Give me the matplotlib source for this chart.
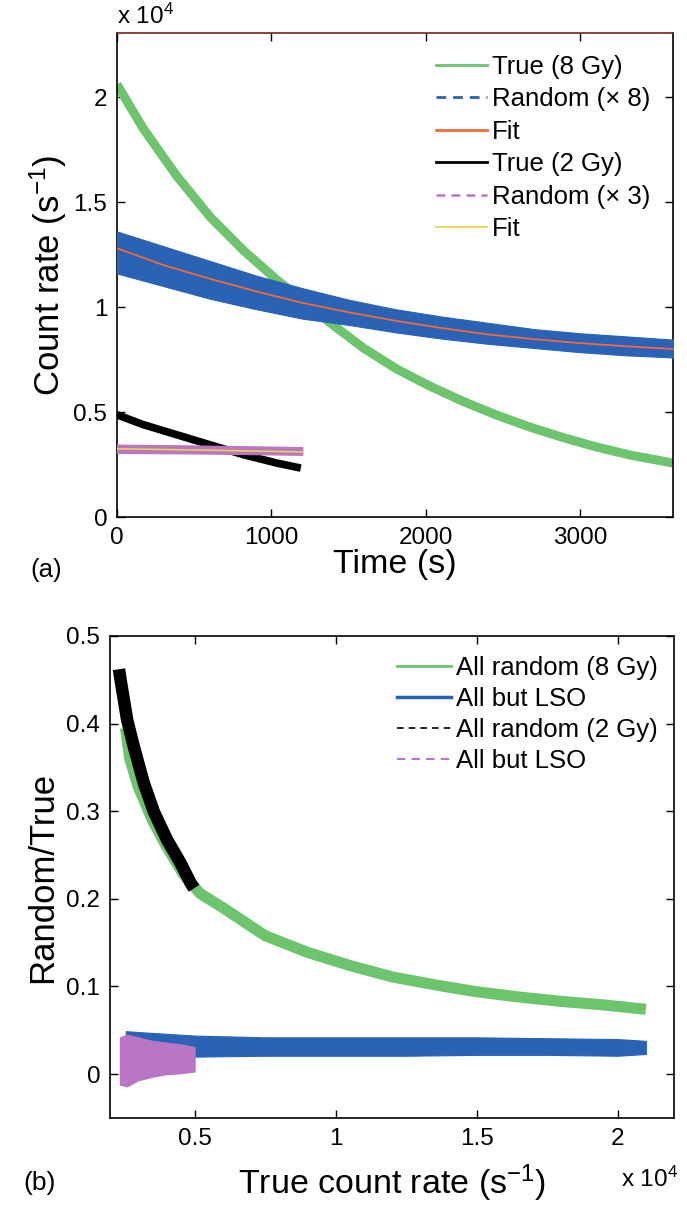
import matplotlib
matplotlib.use('Agg')
import matplotlib.pyplot as plt
from matplotlib.lines import Line2D

plt.rcParams['font.family'] = ['Liberation Sans', 'DejaVu Sans']
plt.rcParams['mathtext.fontset'] = 'custom'
plt.rcParams['mathtext.rm'] = 'Liberation Sans'
plt.rcParams['mathtext.it'] = 'Liberation Sans:italic'

# ---- panel (a): count rates vs time, values in units of 1e4 s^-1 ----
t_true8 = [0, 170, 386, 602, 818, 1034, 1120, 1380, 1595, 1811, 2027, 2243,
           2459, 2675, 2890, 3107, 3323, 3600]
true8 = [2.06, 1.85, 1.625, 1.43, 1.27, 1.13, 1.08, 0.925, 0.805, 0.705,
         0.623, 0.55, 0.485, 0.428, 0.378, 0.333, 0.295, 0.257]

t_rand8 = [0, 300, 600, 900, 1200, 1500, 1800, 2100, 2400, 2700, 3000, 3300, 3600]
rand8_hi = [1.36, 1.29, 1.22, 1.15, 1.09, 1.035, 0.99, 0.955, 0.925, 0.895, 0.875, 0.86, 0.845]
rand8_lo = [1.16, 1.10, 1.04, 0.99, 0.945, 0.915, 0.88, 0.85, 0.825, 0.805, 0.785, 0.77, 0.76]
fit8 = [1.28, 1.20, 1.135, 1.075, 1.02, 0.975, 0.935, 0.90, 0.87, 0.847, 0.828, 0.813, 0.80]

t_true2 = [0, 170, 386, 602, 818, 1034, 1190]
true2 = [0.487, 0.44, 0.392, 0.344, 0.297, 0.257, 0.233]

t_rand3 = [0, 600, 1200]
rand3_hi = [0.345, 0.34, 0.333]
rand3_lo = [0.305, 0.302, 0.296]
fit3 = [0.325, 0.318, 0.31]

# ---- panel (b): ratio vs true count rate (x in units of 1e4 s^-1) ----
x_all8 = [0.255, 0.27, 0.30, 0.35, 0.40, 0.46, 0.52, 0.60, 0.75, 0.90, 1.05,
          1.20, 1.35, 1.50, 1.65, 1.80, 1.95, 2.10]
all8 = [0.395, 0.36, 0.328, 0.29, 0.26, 0.228, 0.206, 0.19, 0.158, 0.139,
        0.124, 0.111, 0.102, 0.094, 0.088, 0.083, 0.079, 0.074]

x_lso8 = [0.256, 0.35, 0.5, 0.75, 1.0, 1.25, 1.5, 1.75, 2.0, 2.1]
lso8_hi = [0.049, 0.047, 0.044, 0.042, 0.042, 0.042, 0.042, 0.041, 0.040, 0.038]
lso8_lo = [0.017, 0.018, 0.020, 0.021, 0.021, 0.021, 0.022, 0.022, 0.021, 0.023]

x_all2 = [0.232, 0.238, 0.261, 0.285, 0.320, 0.356, 0.403, 0.450, 0.486, 0.498]
all2 = [0.462, 0.449, 0.404, 0.373, 0.332, 0.299, 0.267, 0.241, 0.218, 0.212]

x_lso2 = [0.235, 0.26, 0.30, 0.35, 0.40, 0.45, 0.50]
lso2_hi = [0.042, 0.045, 0.042, 0.038, 0.036, 0.034, 0.031]
lso2_lo = [-0.012, -0.014, -0.007, -0.003, 0.0, 0.001, 0.003]

GREEN = '#6cc46c'
BLUE = '#2a62b6'
ORANGE = '#f26a3a'
PURPLE = '#b876c4'
YELLOW = '#e6d44a'

fig = plt.figure(figsize=(6.87, 12.06), dpi=100)
ax1 = fig.add_axes([0.1703, 0.5713, 0.8093, 0.4013])
ax2 = fig.add_axes([0.1601, 0.0730, 0.8210, 0.3997])

# panel (a)
ax1.plot(t_true8, true8, color=GREEN, lw=6.5, solid_capstyle='butt', zorder=2)
ax1.fill_between(t_rand8, rand8_lo, rand8_hi, color=BLUE, lw=0.8, edgecolor=BLUE, zorder=3)
ax1.plot(t_rand8, fit8, color=ORANGE, lw=1.3, zorder=4)
ax1.plot(t_true2, true2, color='black', lw=5.5, solid_capstyle='butt', zorder=5)
ax1.fill_between(t_rand3, rand3_lo, rand3_hi, color=PURPLE, lw=0.8, edgecolor=PURPLE, zorder=6)
ax1.plot(t_rand3, fit3, color=YELLOW, lw=1.2, zorder=7)

ax1.set_xlim(0, 3600)
ax1.set_ylim(0, 2.305)
ax1.set_xticks([0, 1000, 2000, 3000])
ax1.set_yticks([0, 0.5, 1, 1.5, 2])
ax1.set_yticklabels(['0', '0.5', '1', '1.5', '2'])
ax1.set_xlabel('Time (s)', fontsize=24.5, labelpad=0)
ax1.set_ylabel('Count rate (s$^{-1}$)', fontsize=25, labelpad=3)
ax1.text(0.0, 1.008, 'x 10$^4$', transform=ax1.transAxes, fontsize=17.5,
         ha='left', va='bottom')
ax1.text(-0.127, -0.11, '(a)', transform=ax1.transAxes, fontsize=18.5,
         ha='center', va='center')
ax1.spines['top'].set_color('#7a2020')

h1 = [Line2D([], [], color=GREEN, lw=2),
      Line2D([], [], color=BLUE, lw=2, ls=(0, (3.5, 2.5))),
      Line2D([], [], color=ORANGE, lw=2),
      Line2D([], [], color='black', lw=2),
      Line2D([], [], color=PURPLE, lw=1.8, ls=(0, (3.5, 2.5))),
      Line2D([], [], color=YELLOW, lw=1.3)]
l1 = ['True (8 Gy)', 'Random (\u00d7 8)', 'Fit', 'True (2 Gy)', 'Random (\u00d7 3)', 'Fit']
ax1.legend(h1, l1, loc='upper right', bbox_to_anchor=(0.969, 0.966), frameon=False,
           fontsize=18.5, handlelength=1.95, handletextpad=0.22, labelspacing=0.33,
           borderpad=0.2, borderaxespad=0)

# panel (b)
ax2.plot(x_all8, all8, color=GREEN, lw=8, solid_capstyle='butt', zorder=2)
ax2.fill_between(x_lso8, lso8_lo, lso8_hi, color=BLUE, lw=0.8, edgecolor=BLUE, zorder=3)
ax2.plot(x_all2, all2, color='black', lw=9, solid_capstyle='butt', zorder=4)
ax2.fill_between(x_lso2, lso2_lo, lso2_hi, color=PURPLE, lw=0.8, edgecolor=PURPLE, zorder=5)

ax2.set_xlim(0.2, 2.2)
ax2.set_ylim(-0.05, 0.5)
ax2.set_xticks([0.5, 1, 1.5, 2])
ax2.set_xticklabels(['0.5', '1', '1.5', '2'])
ax2.set_yticks([0, 0.1, 0.2, 0.3, 0.4, 0.5])
ax2.set_yticklabels(['0', '0.1', '0.2', '0.3', '0.4', '0.5'])
ax2.set_xlabel('True count rate (s$^{-1}$)', fontsize=24.5, labelpad=9)
ax2.set_ylabel('Random/True', fontsize=25, labelpad=5)
ax2.text(1.008, -0.127, 'x 10$^4$', transform=ax2.transAxes, fontsize=17.5,
         ha='right', va='center')
ax2.text(-0.125, -0.135, '(b)', transform=ax2.transAxes, fontsize=19,
         ha='center', va='center')

h2 = [Line2D([], [], color=GREEN, lw=2),
      Line2D([], [], color=BLUE, lw=2.5),
      Line2D([], [], color='black', lw=1.2, ls=(0, (4, 3))),
      Line2D([], [], color=PURPLE, lw=1.5, ls=(0, (4, 3)))]
l2 = ['All random (8 Gy)', 'All but LSO', 'All random (2 Gy)', 'All but LSO']
ax2.legend(h2, l2, loc='upper right', bbox_to_anchor=(0.98, 0.97), frameon=False,
           fontsize=18.5, handlelength=2.1, handletextpad=0.2, labelspacing=0.28,
           borderpad=0.2, borderaxespad=0)

for ax in (ax1, ax2):
    ax.tick_params(direction='in', length=6, width=1, top=True, right=True,
                   labelsize=17.5, pad=7)
    for sp in ax.spines.values():
        sp.set_linewidth(1.2)

fig.savefig('out.png', dpi=100)
